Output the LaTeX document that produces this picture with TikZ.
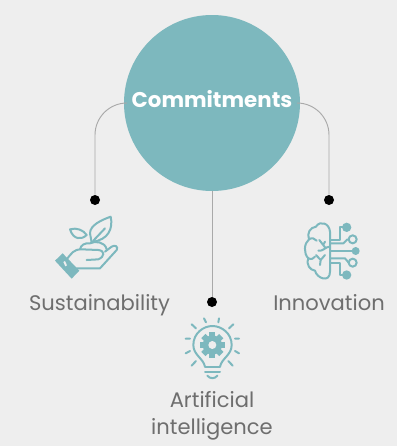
\documentclass[tikz,border=0pt]{standalone}
\usepackage{fontspec}
\setmainfont{Poppins}
\definecolor{tealc}{HTML}{7DB8BE}
\definecolor{backc}{HTML}{EEEEEE}
\definecolor{linec}{HTML}{A9A9A9}
\definecolor{textc}{HTML}{6E6E6E}
\begin{document}
\begin{tikzpicture}[x=0.75pt,y=-0.75pt,
            main node/.style={circle,fill=tealc,minimum size=132pt,inner sep=0pt,text=white,text height=11pt,text depth=4pt,font=\fontsize{16}{18}\selectfont\bfseries},
            dot node/.style={circle,fill=black,minimum size=7.5pt,inner sep=0pt},
            label node/.style={text=textc,align=center,font=\fontsize{15.8}{20}\selectfont},
            link/.style={draw=linec,line width=0.7pt},
            icon/.style={draw=tealc,line width=1.5pt,line join=round,line cap=round,x=0.25pt,y=-0.25pt},
            solid part/.style={fill=tealc,draw=none}]

        \fill[backc] (0,0) rectangle (397,446);
        \useasboundingbox (0,0) rectangle (397,446);

        % Define vertices
        \node[main node] (commit) at (212,103) {Commitments};
        \node[dot node] (dotsust) at (95,200) {};
        \node[dot node] (dotart) at (212,302) {};
        \node[dot node] (dotinno) at (329,200) {};
        \node[label node,anchor=base] (sust) at (99.5,310) {Sustainability};
        \node[label node,anchor=base] (inno) at (329,310) {Innovation};
        \node[label node] (art) at (212,416) {Artificial\\intelligence};

        % Draw edges
        \draw[link,rounded corners=24pt] (commit.west) -| (dotsust);
        \draw[link,rounded corners=24pt] (commit.east) -| (dotinno);
        \draw[link] (commit) -- (dotart);

        % Hand with plant
        \begin{scope}[shift={(40,200)},icon]
            \fill[solid part] (45,182) -- (68,160) -- (118,212) -- (95,236) -- cycle;
            \fill[backc] (70,186) -- (75,183) -- (81,196) -- (76,199) -- cycle;
            \draw (80,178) .. controls (95,160) and (100,148) .. (125,148) -- (175,150) .. controls (195,152) and (195,170) .. (175,178) -- (140,180);
            \draw (195,155) -- (215,140) .. controls (225,133) and (236,140) .. (230,150) -- (180,205) -- (110,205);
            \draw (120,148) .. controls (122,135) and (135,128) .. (150,130) .. controls (165,122) and (195,125) .. (200,148);
            \draw (155,128) -- (150,100) .. controls (150,75) and (185,60) .. (212,50) .. controls (220,85) and (205,120) .. (158,125);
            \draw (160,122) -- (195,85);
            \draw (90,88) .. controls (110,82) and (130,90) .. (140,105) .. controls (125,120) and (100,120) .. (90,88) -- cycle;
        \end{scope}

        % Light bulb with gear
        \begin{scope}[shift={(170,295)},icon]
            \draw (105,215) .. controls (100,190) and (70,180) .. (70,150) .. controls (70,115) and (100,93) .. (127,93) .. controls (155,93) and (185,115) .. (185,150) .. controls (185,180) and (155,190) .. (150,215);
            \draw (105,216) -- (150,216) (105,230) -- (150,230);
            \draw (112,242) .. controls (120,252) and (135,252) .. (142,242);
            \draw (47,131) -- (60,131) (195,131) -- (207,131) (65,88) -- (78,100) (190,88) -- (177,100);
            \draw (102,70) -- (108,82) (147,70) -- (145,82) (47,175) -- (60,168) (207,175) -- (195,168);
            \draw (65,212) -- (78,198) (188,212) -- (175,198);
            \foreach \a in {0,45,...,315}
                \fill[solid part,rotate around={\a:(127,150)}] (118,112) rectangle (136,135);
            \fill[solid part] (127,150) circle (29);
            \fill[backc] (127,150) circle (12);
        \end{scope}

        % Brain with circuit
        \begin{scope}[shift={(290,190)},icon]
            \draw (120,125) .. controls (118,100) and (90,90) .. (78,110) .. controls (60,112) and (50,130) .. (57,148) .. controls (42,160) and (40,190) .. (55,205) .. controls (48,225) and (60,240) .. (75,242) .. controls (80,265) and (120,280) .. (120,245) -- cycle;
            \draw (57,148) .. controls (65,142) and (75,145) .. (80,152);
            \draw (88,150) -- (105,172) (105,155) -- (100,164);
            \draw (120,170) .. controls (105,170) and (100,185) .. (85,182);
            \draw (78,195) -- (92,210) -- (90,225) (92,210) -- (105,195);
            \draw (55,205) .. controls (65,210) and (70,205) .. (75,200);
            \draw (120,150) -- (150,150) -- (150,112) -- (170,112);
            \draw (120,160) -- (160,160) -- (172,148);
            \draw (120,182) -- (195,182);
            \draw (120,205) -- (165,205) -- (176,218);
            \draw (120,218) -- (150,218) -- (150,255) -- (170,255);
            \fill[solid part] (170,112) circle (14) (197,183) circle (12) (170,255) circle (14);
            \draw (188,148) circle (12) (188,218) circle (12);
        \end{scope}

        \end{tikzpicture}
\end{document}
